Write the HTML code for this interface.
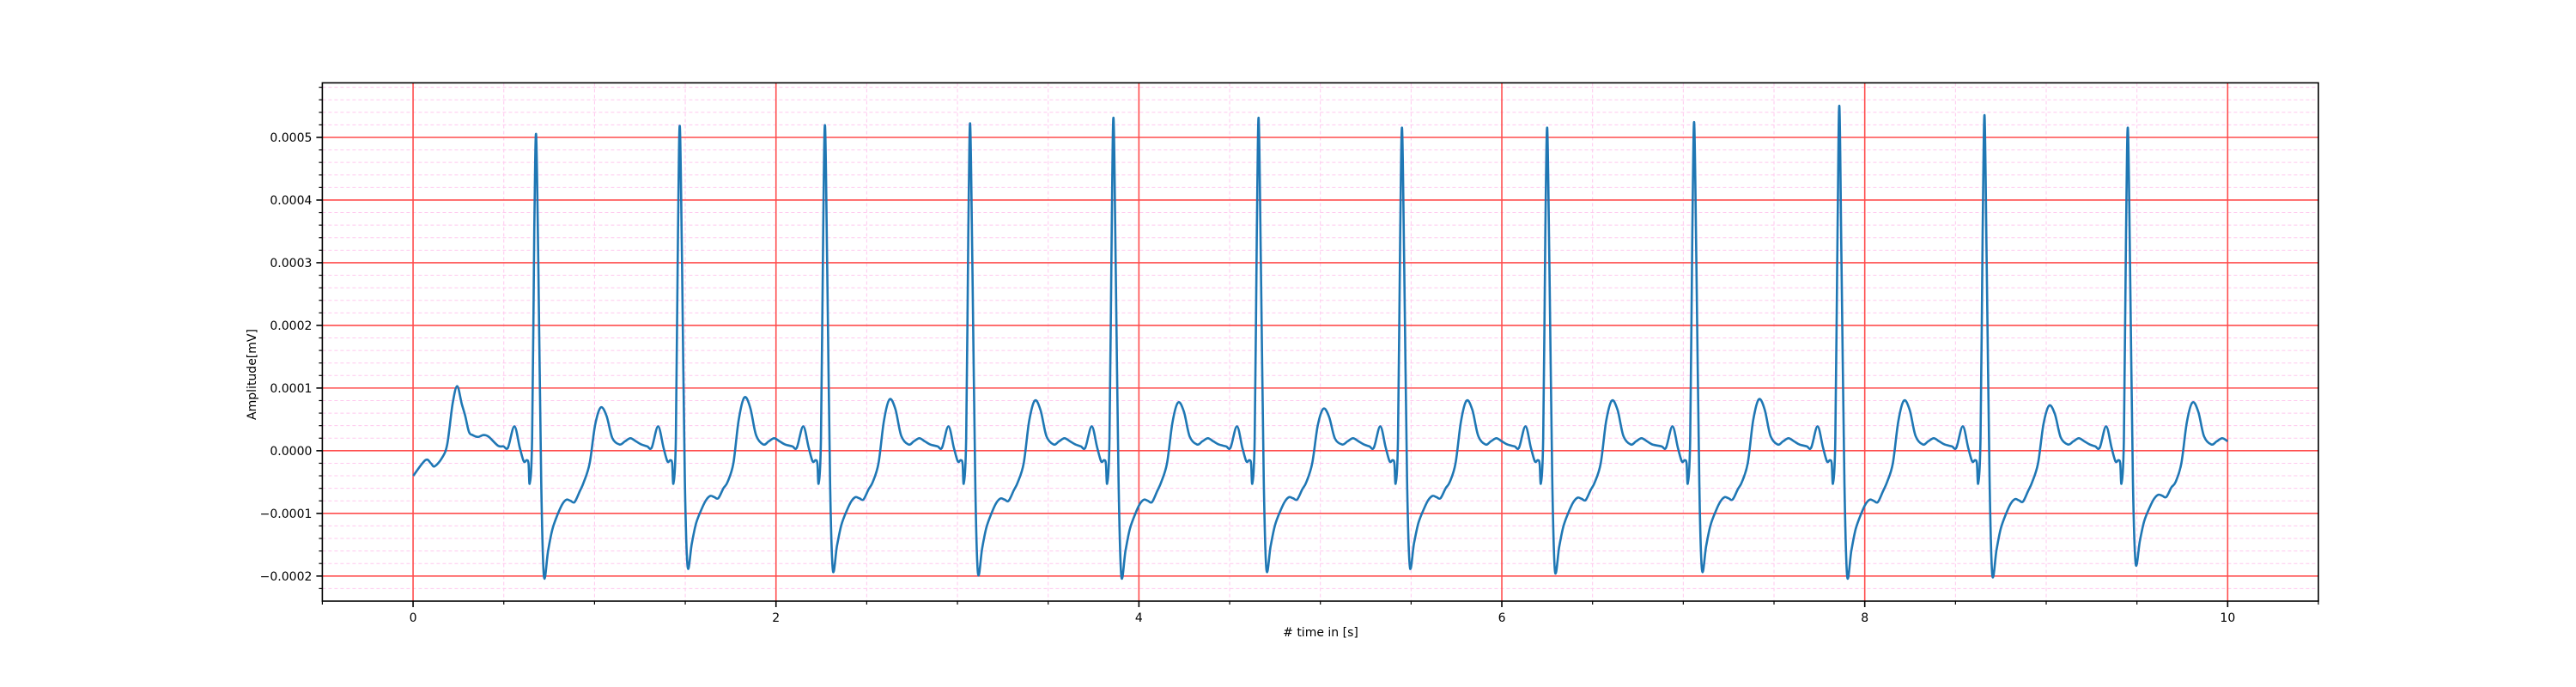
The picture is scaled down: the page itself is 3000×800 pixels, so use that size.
<!DOCTYPE html>
<html><head><meta charset="utf-8">
<style>
html,body{margin:0;padding:0;background:#fff;}
svg{display:block;font-family:"DejaVu Sans","Liberation Sans",sans-serif;}
</style></head>
<body>
<svg id="chart" width="3000" height="800" viewBox="0 0 3000 800" xmlns="http://www.w3.org/2000/svg">
<rect x="0" y="0" width="3000" height="800" fill="#fff"/>
<g id="grid"></g>
<g id="series"></g>
<g id="axes"></g>
<text x="1538" y="741" font-size="14" text-anchor="middle"># time in [s]</text>
<text x="0" y="0" font-size="14" text-anchor="middle" transform="translate(298,436) rotate(-90)">Amplitude[mV]</text>
</svg>
<script>
// ---- data ----
const rPeakTimes = [0.678, 1.47, 2.27, 3.07, 3.86, 4.66, 5.45, 6.25, 7.06, 7.86, 8.66, 9.45];
const rPeakAmps  = [0.000505, 0.000518, 0.000519, 0.000522, 0.000531, 0.000531, 0.000515, 0.000515, 0.000524, 0.000550, 0.000535, 0.000515];
const sTroughAmps = [-0.000200, -0.000185, -0.000190, -0.000195, -0.000200, -0.000190, -0.000185, -0.000192, -0.000190, -0.000200, -0.000198, -0.000180];
const tWaveAmps  = [0.000069, 0.000085, 0.000082, 0.000080, 0.000077, 0.000067, 0.000080, 0.000080, 0.000082, 0.000080, 0.000072, 0.000077];
const initialTAmp = 0.000103;
// beat waveform template (offset from R peak in s, value in 1e-4 mV)
const tplPreOffsets = [-0.677,-0.61,-0.58,-0.56,-0.52,-0.49,-0.46,-0.435,-0.41,-0.39,-0.37,-0.35,-0.32,-0.29,-0.26,-0.21,-0.18,-0.155,-0.12,-0.09,-0.068,-0.052,-0.042,-0.035,-0.022,-0.01];
const tplPreValues  = [-0.40,-0.15,-0.20,-0.25,-0.12,0.10,0.75,1.03,0.75,0.55,0.30,0.25,0.22,0.25,0.22,0.08,0.07,0.05,0.39,0.05,-0.17,-0.15,-0.2,-0.52,0.2,3.5];
const tplPostOffsets = [0.012,0.028,0.043,0.066,0.09,0.121,0.145,0.168,0.19,0.212,0.24,0.263,0.295,0.325,0.356,0.388,0.42,0.46,0.49,0.52,0.55,0.58,0.61,0.64,0.675,0.70,0.72];
const tplPostValues  = [3.0,-0.5,-2.0,-1.6,-1.25,-1.0,-0.85,-0.78,-0.8,-0.82,-0.65,-0.5,-0.2,0.4,0.68,0.55,0.2,0.1,0.15,0.2,0.15,0.1,0.15,0.05,0.4,0.3,-0.05];
const xTickLabels = ["0","2","4","6","8","10"];
const yTickValues = [-0.0002,-0.0001,0,0.0001,0.0002,0.0003,0.0004,0.0005];
const yTickLabels = ["\u22120.0002","\u22120.0001","0.0000","0.0001","0.0002","0.0003","0.0004","0.0005"];

// ---- axes ----
const L=375.4,R=2700,T=96.5,B=700;
const xMin=-0.5,xMax=10.5,yMin=-0.000240,yMax=0.000587;
const X=t=>L+(t-xMin)/(xMax-xMin)*(R-L);
const Y=v=>B-(v-yMin)/(yMax-yMin)*(B-T);
const NS="http://www.w3.org/2000/svg";
function mk(tag,attrs,parent){const e=document.createElementNS(NS,tag);for(const k in attrs)e.setAttribute(k,attrs[k]);parent.appendChild(e);return e;}
const grid=document.getElementById('grid'),axes=document.getElementById('axes'),series=document.getElementById('series');

// minor grid
for(let i=-12;i<=29;i++){const v=i*0.00002;if(v<yMin||v>yMax)continue;if(i%5===0)continue;
 const l=mk('line',{x1:L,x2:R,y1:Y(v),y2:Y(v),stroke:'#ffc8ee','stroke-width':1,'stroke-dasharray':'4,3'},grid);
 
 }
for(let i=-1;i<=21;i++){const t=i*0.5;if(t<xMin||t>xMax)continue;if(i%4===0)continue;
 const l=mk('line',{x1:X(t),x2:X(t),y1:T,y2:B,stroke:'#ffc8ee','stroke-width':1,'stroke-dasharray':'4,3'},grid);
 
 }
// major grid
yTickValues.forEach(v=>{const l=mk('line',{x1:L,x2:R,y1:Y(v),y2:Y(v),stroke:'#ff4d4d','stroke-width':1.6},grid);
 
 });
xTickLabels.forEach(s=>{const t=+s;const l=mk('line',{x1:X(t),x2:X(t),y1:T,y2:B,stroke:'#ff4d4d','stroke-width':1.6},grid);
 
 });

// ---- build ECG points ----
const pts=[];
const POST_CUT=0.6, PRE_CUT=-0.2;
for(let b=0;b<rPeakTimes.length;b++){
 const r=rPeakTimes[b];
 const tA = b===0 ? initialTAmp : tWaveAmps[b-1];
 for(let i=0;i<tplPreOffsets.length;i++){
  const off=tplPreOffsets[i];
  if(b>0 && off<PRE_CUT) continue;
  const t=r+off; if(t<0) continue;
  if(b>0 && t<=rPeakTimes[b-1]+POST_CUT+0.005) continue;
  let v=tplPreValues[i]*1e-4;
  if(off>-0.5&&off<-0.37) v=v*tA/1.03e-4;
  pts.push([t,v]);
 }
 pts.push([r,rPeakAmps[b]]);
 const last = b===rPeakTimes.length-1;
 for(let i=0;i<tplPostOffsets.length;i++){
  const off=tplPostOffsets[i];
  if(!last && off>POST_CUT) break;
  const t=r+off; if(t>10) break;
  let v=tplPostValues[i]*1e-4;
  if(off>0.03&&off<0.25) v=v*(-sTroughAmps[b])/2e-4;
  if(off>0.3&&off<0.43) v=v*tWaveAmps[b]/0.68e-4;
  pts.push([t,v]);
 }
}
if(pts[pts.length-1][0]<10) pts.push([10,0]);
const P=pts.map(p=>[X(p[0]),Y(p[1])]);
let d='M'+P[0][0].toFixed(1)+','+P[0][1].toFixed(1);
for(let i=0;i<P.length-1;i++){
 const p0=P[Math.max(0,i-1)],p1=P[i],p2=P[i+1],p3=P[Math.min(P.length-1,i+2)];
 const k=1/6;
 const c1=[p1[0]+(p2[0]-p0[0])*k,p1[1]+(p2[1]-p0[1])*k];
 const c2=[p2[0]-(p3[0]-p1[0])*k,p2[1]-(p3[1]-p1[1])*k];
 c1[0]=Math.min(Math.max(c1[0],p1[0]),p2[0]);c2[0]=Math.min(Math.max(c2[0],p1[0]),p2[0]);
 d+=' C'+c1[0].toFixed(1)+','+c1[1].toFixed(1)+' '+c2[0].toFixed(1)+','+c2[1].toFixed(1)+' '+p2[0].toFixed(1)+','+p2[1].toFixed(1);
}
const line=mk('path',{d:d,fill:'none',stroke:'#1f77b4','stroke-width':2.6,'stroke-linejoin':'round'},series);



// ---- axes frame & ticks ----
const frame=mk('rect',{x:L,y:T,width:R-L,height:B-T,fill:'none',stroke:'#000','stroke-width':1.6},axes);


yTickValues.forEach((v,i)=>{
 mk('line',{x1:L-7,x2:L,y1:Y(v),y2:Y(v),stroke:'#000','stroke-width':1.6},axes);
 const tx=mk('text',{x:L-12,y:Y(v)+5,'font-size':14,'text-anchor':'end',fill:'#000'},axes);
 tx.textContent=yTickLabels[i];
 
 
});
for(let i=-12;i<=29;i++){const v=i*0.00002;if(v<yMin||v>yMax||i%5===0)continue;
 mk('line',{x1:L-4,x2:L,y1:Y(v),y2:Y(v),stroke:'#000','stroke-width':1.2},axes);}
for(let i=-1;i<=21;i++){const t=i*0.5;if(t<xMin||t>xMax||i%4===0)continue;
 mk('line',{x1:X(t),x2:X(t),y1:B,y2:B+4,stroke:'#000','stroke-width':1.2},axes);}
xTickLabels.forEach(s=>{const t=+s;
 mk('line',{x1:X(t),x2:X(t),y1:B,y2:B+7,stroke:'#000','stroke-width':1.6},axes);
 const tx=mk('text',{x:X(t),y:B+24,'font-size':14,'text-anchor':'middle',fill:'#000'},axes);
 tx.textContent=s;
 
 
});
</script>
</body></html>
